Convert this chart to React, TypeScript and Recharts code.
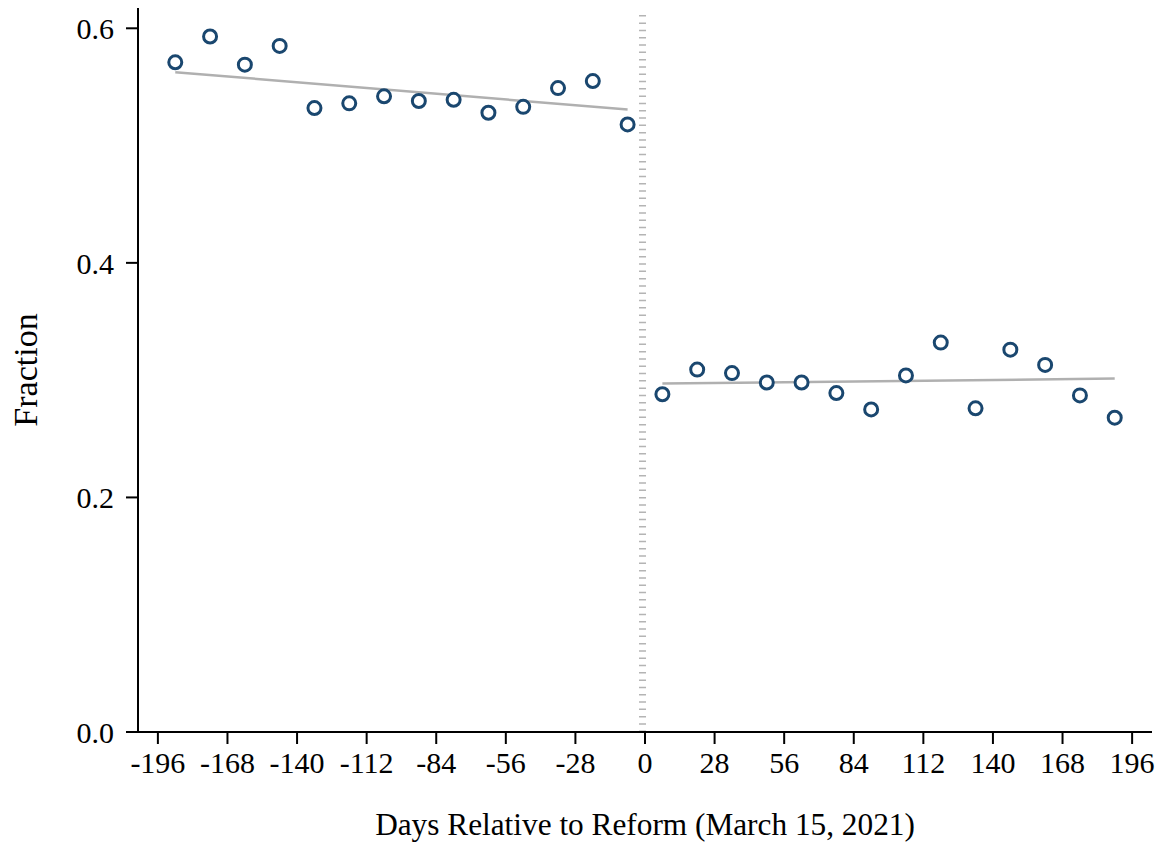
import React from "react";
import { ComposedChart, Scatter, Line, XAxis, YAxis, ReferenceLine } from "recharts";

type Point = {
  day: number;
  frac: number;
};

// binned means, 14-day bins either side of the reform date
const daysBefore = [-189, -175, -161, -147, -133, -119, -105, -91, -77, -63, -49, -35, -21, -7];
const fracBefore = [0.571, 0.593, 0.569, 0.585, 0.532, 0.536, 0.542, 0.538, 0.539, 0.528, 0.533, 0.549, 0.555, 0.518];

const daysAfter = [7, 21, 35, 49, 63, 77, 91, 105, 119, 133, 147, 161, 175, 189];
const fracAfter = [0.288, 0.309, 0.306, 0.298, 0.298, 0.289, 0.275, 0.304, 0.332, 0.276, 0.326, 0.313, 0.287, 0.268];

// linear fit end points
const fitBeforeDays = [-189, -7];
const fitBeforeFrac = [0.5626, 0.5307];
const fitAfterDays = [7, 189];
const fitAfterFrac = [0.2971, 0.3013];

const xTicks = [-196, -168, -140, -112, -84, -56, -28, 0, 28, 56, 84, 112, 140, 168, 196];
const yTicks = [0, 0.2, 0.4, 0.6];

const toPoints = (days: number[], fracs: number[]): Point[] =>
  days.map((d, i) => ({ day: d, frac: fracs[i] }));

const before = toPoints(daysBefore, fracBefore);
const after = toPoints(daysAfter, fracAfter);
const fitBefore = toPoints(fitBeforeDays, fitBeforeFrac);
const fitAfter = toPoints(fitAfterDays, fitAfterFrac);

const FONT = '"Liberation Serif", "Times New Roman", serif';
const NAVY = "#1a476f";

const Hollow = (props: any) => {
  const { cx, cy } = props;
  if (cx == null || cy == null) return null;
  return <circle cx={cx} cy={cy} r={6.5} fill="#fff" stroke={NAVY} strokeWidth={3} />;
};

const App = () => {
  return (
    <div style={{ position: "absolute", left: 0, top: 0, background: "#fff" }}>
      <ComposedChart
        width={1164}
        height={846}
        margin={{ top: 8, right: 12, left: 0, bottom: 0 }}
      >
        <XAxis
          type="number"
          dataKey="day"
          domain={[-204, 204]}
          ticks={xTicks}
          interval={0}
          height={114}
          tickSize={12}
          tickMargin={8}
          stroke="#000"
          strokeWidth={2}
          tick={{ fill: "#000", fontSize: 30, fontFamily: FONT }}
          label={{
            value: "Days Relative to Reform (March 15, 2021)",
            position: "insideBottom",
            offset: 11,
            fill: "#000",
            fontSize: 31.3,
            fontFamily: FONT
          }}
        />
        <YAxis
          type="number"
          dataKey="frac"
          domain={[0, 0.6173]}
          ticks={yTicks}
          interval={0}
          width={138}
          tickSize={12}
          tickMargin={12}
          stroke="#000"
          strokeWidth={2}
          tickFormatter={(v: number) => v.toFixed(1)}
          tick={{ fill: "#000", fontSize: 30, fontFamily: FONT }}
          label={{
            value: "Fraction",
            angle: -90,
            position: "insideLeft",
            offset: 25,
            fill: "#000",
            fontSize: 34,
            fontFamily: FONT,
            style: { textAnchor: "middle" }
          }}
        />
        <ReferenceLine
          segment={[{ x: -1, y: 0 }, { x: -1, y: 0.6135 }]}
          stroke="#b4b4b4"
          strokeWidth={7}
          strokeDasharray="1.5 5.8"
        />
        <Line
          data={fitBefore}
          dataKey="frac"
          stroke="#b0b0b0"
          strokeWidth={2.5}
          dot={false}
          activeDot={false}
          isAnimationActive={false}
        />
        <Line
          data={fitAfter}
          dataKey="frac"
          stroke="#b0b0b0"
          strokeWidth={2.5}
          dot={false}
          activeDot={false}
          isAnimationActive={false}
        />
        <Scatter data={before} dataKey="frac" shape={<Hollow />} isAnimationActive={false} />
        <Scatter data={after} dataKey="frac" shape={<Hollow />} isAnimationActive={false} />
      </ComposedChart>
    </div>
  );
};

export default App;
